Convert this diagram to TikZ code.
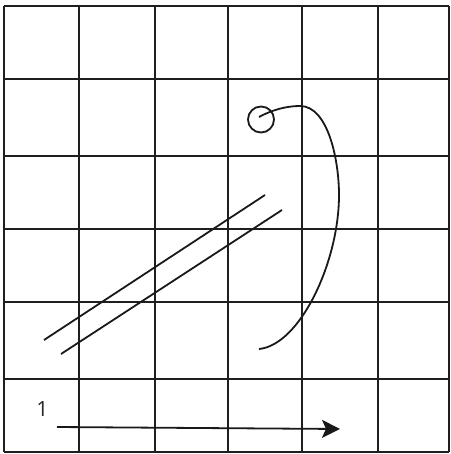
\documentclass[tikz,border=0pt]{standalone}
\usepackage{fontspec}
\setmainfont{Open Sans}
\usetikzlibrary{arrows.meta}
\begin{document}
\begin{tikzpicture}[x=1pt,y=-1pt,
  gridline/.style={line width=2.4pt, draw=black!88},
  stroke/.style={line width=1.8pt, draw=black!90},
  lbl/.style={font=\fontsize{21}{21}\selectfont, text=black!85, inner sep=0pt}]
\useasboundingbox (0,0) rectangle (450,454);
% grid
\foreach \x in {4,79,155,228,302,378,449}
  \draw[gridline] (\x,6) -- (\x,452);
\foreach \y in {6,79,156,229,302,379,452}
  \draw[gridline] (4,\y) -- (449,\y);
% parallel lines
\coordinate (a1) at (44,340);
\coordinate (a2) at (265,195);
\coordinate (b1) at (61,354);
\coordinate (b2) at (282,210);
\draw[stroke] (a1) -- (a2);
\draw[stroke] (b1) -- (b2);
% circle and curve
\coordinate (c) at (261,119.5);
\draw[stroke] (c) circle[radius=13];
\coordinate (s) at (259,117);
\coordinate (t) at (300,106);
\coordinate (r) at (339,195);
\coordinate (e) at (259,349);
\draw[stroke] (s) .. controls (272,110) and (286,106) .. (t)
  .. controls (328,106) and (339,160) .. (r)
  .. controls (339,262) and (300,345) .. (e);
% arrow
\node[lbl] (one) at (42.5,409) {1};
\coordinate (p) at (57,427);
\coordinate (q) at (340,429);
\draw[stroke, -{Stealth[length=18pt,width=18pt,inset=4pt]}] (p) -- (q);
\end{tikzpicture}
\end{document}
